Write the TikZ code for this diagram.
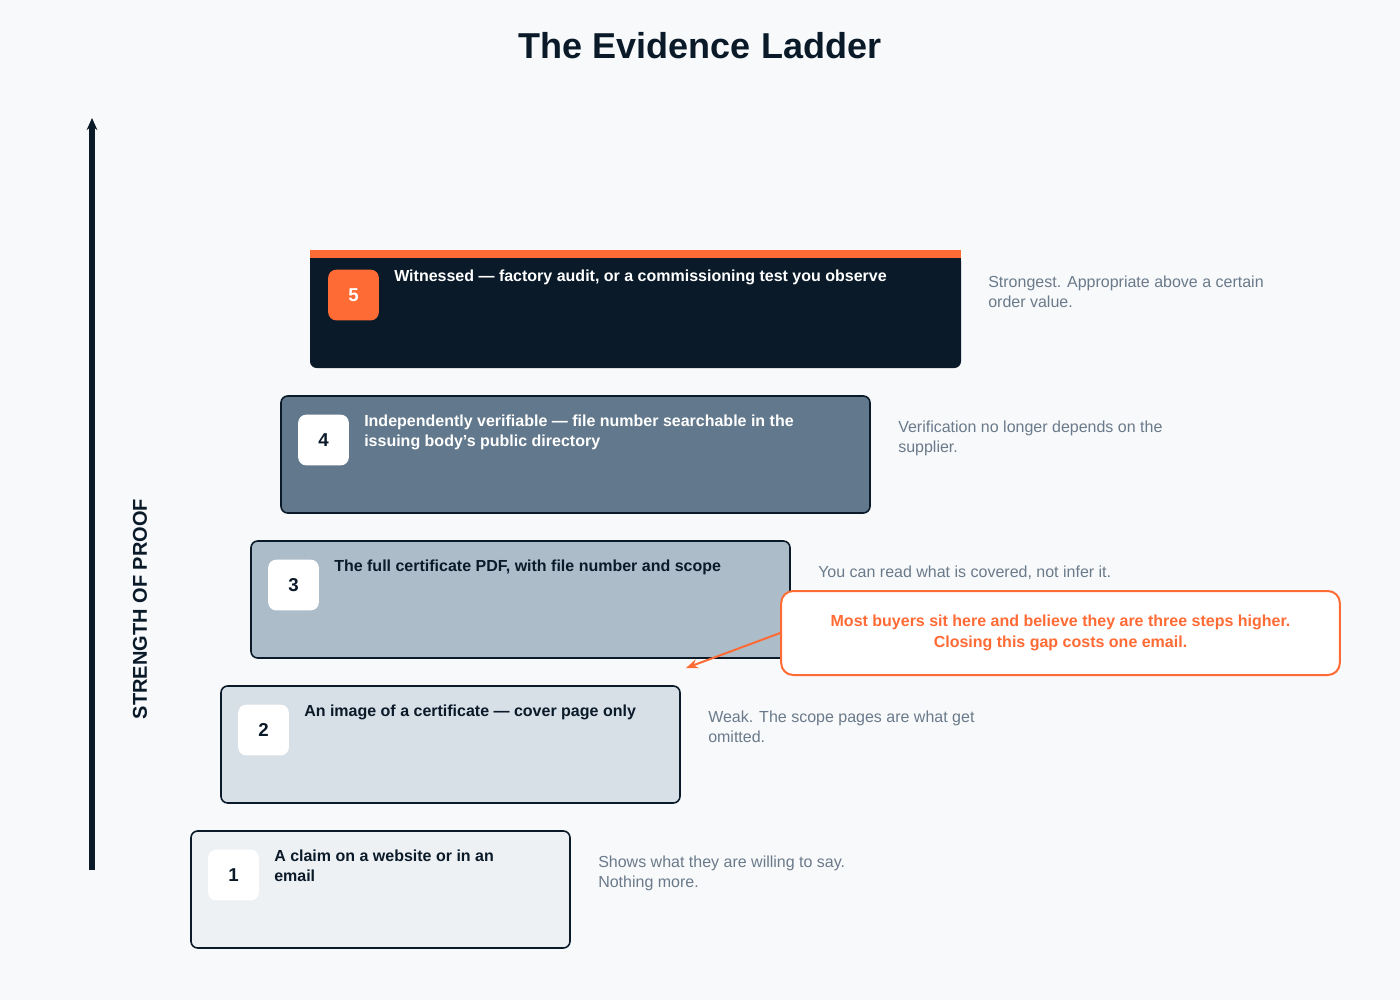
\documentclass[tikz,border=0pt]{standalone}
\usepackage{fontspec}
\setmainfont{Liberation Sans}
\usepackage{tikz}
\usetikzlibrary{arrows.meta,positioning,calc}
\definecolor{ink}{HTML}{0A1A29}
\definecolor{accent}{HTML}{FF6B35}
\definecolor{note}{HTML}{6B7A8A}
\definecolor{paper}{HTML}{F7F9FB}
\definecolor{stepA}{HTML}{EEF1F4}
\definecolor{stepB}{HTML}{D8E0E7}
\definecolor{stepC}{HTML}{ADBCC9}
\definecolor{stepD}{HTML}{62788C}

\begin{document}
\begin{tikzpicture}[
x=0.75pt, y=-0.75pt,
rung/.style={draw=ink, line width=1.2pt, rounded corners=5pt},
badge/.style={rectangle, rounded corners=6pt, minimum width=38pt, minimum height=38pt, inner sep=0pt, font=\fontsize{14}{16}\selectfont\bfseries},
steptext/.style={anchor=north west, inner sep=0pt, font=\fontsize{12}{15}\selectfont\bfseries, align=left},
desc/.style={anchor=north west, inner sep=0pt, font=\fontsize{12}{15}\selectfont, text=note, align=left},
arrow/.style={-{Stealth[length=9pt,width=8pt]}, line width=4.5pt, ink}
]
\useasboundingbox[fill=paper] (0,0) rectangle (1400,1000);

\node[font=\fontsize{27}{30}\selectfont\bfseries, text=ink] (title) at (700,46) {The Evidence Ladder};

% axis
\coordinate (axbot) at (92,870);
\coordinate (axtop) at (92,118);
\draw[arrow] (axbot) -- (axtop);
\node[rotate=90, font=\fontsize{15}{18}\selectfont\bfseries, text=ink] (axlabel) at (140,609) {STRENGTH OF PROOF};

% rungs
\draw[rung, fill=stepA] (191,831) rectangle (570,948);
\draw[rung, fill=stepB] (221,686) rectangle (680,803);
\draw[rung, fill=stepC] (251,541) rectangle (790,658);
\draw[rung, fill=stepD] (281,396) rectangle (870,513);
\fill[ink, rounded corners=5pt] (310,254) rectangle (961,368);
\fill[ink] (310,254) rectangle (961,300);
\fill[accent] (310,250) rectangle (961,258);

\node[badge, fill=white, text=ink] (b1) at (233.5,875) {1};
\node[badge, fill=white, text=ink] (b2) at (263.5,730) {2};
\node[badge, fill=white, text=ink] (b3) at (293.5,585) {3};
\node[badge, fill=white, text=ink] (b4) at (323.5,440) {4};
\node[badge, fill=accent, text=white] (b5) at (353.5,295) {5};

\node[steptext, text=ink] (t1) at (274,850) {A claim on a website or in an\\email};
\node[steptext, text=ink] (t2) at (304,705) {An image of a certificate — cover page only};
\node[steptext, text=ink] (t3) at (334,560) {The full certificate PDF, with file number and scope};
\node[steptext, text=white] (t4) at (364,415) {Independently verifiable — file number searchable in the\\issuing body's public directory};
\node[steptext, text=white] (t5) at (394,270) {Witnessed — factory audit, or a commissioning test you observe};

% notes
\node[desc] (d1) at (598,856) {Shows what they are willing to say.\\Nothing more.};
\node[desc] (d2) at (708,711) {Weak. The scope pages are what get\\omitted.};
\node[desc] (d3) at (818,566) {You can read what is covered, not infer it.};
\node[desc] (d4) at (898,421) {Verification no longer depends on the\\supplier.};
\node[desc] (d5) at (988,276) {Strongest. Appropriate above a certain\\order value.};

% callout
\node[draw=accent, line width=1.5pt, fill=white, rounded corners=9pt, minimum width=419pt, minimum height=63pt, font=\fontsize{12}{16}\selectfont\bfseries, text=accent, align=center] (gap) at (1060.5,633) {Most buyers sit here and believe they are three steps higher.\\Closing this gap costs one email.};
\coordinate (gaptip) at (686,668);
\draw[accent, line width=1.5pt, -{Stealth[length=9pt,width=7pt]}] (gap.west) -- (gaptip);
\end{tikzpicture}
\end{document}
